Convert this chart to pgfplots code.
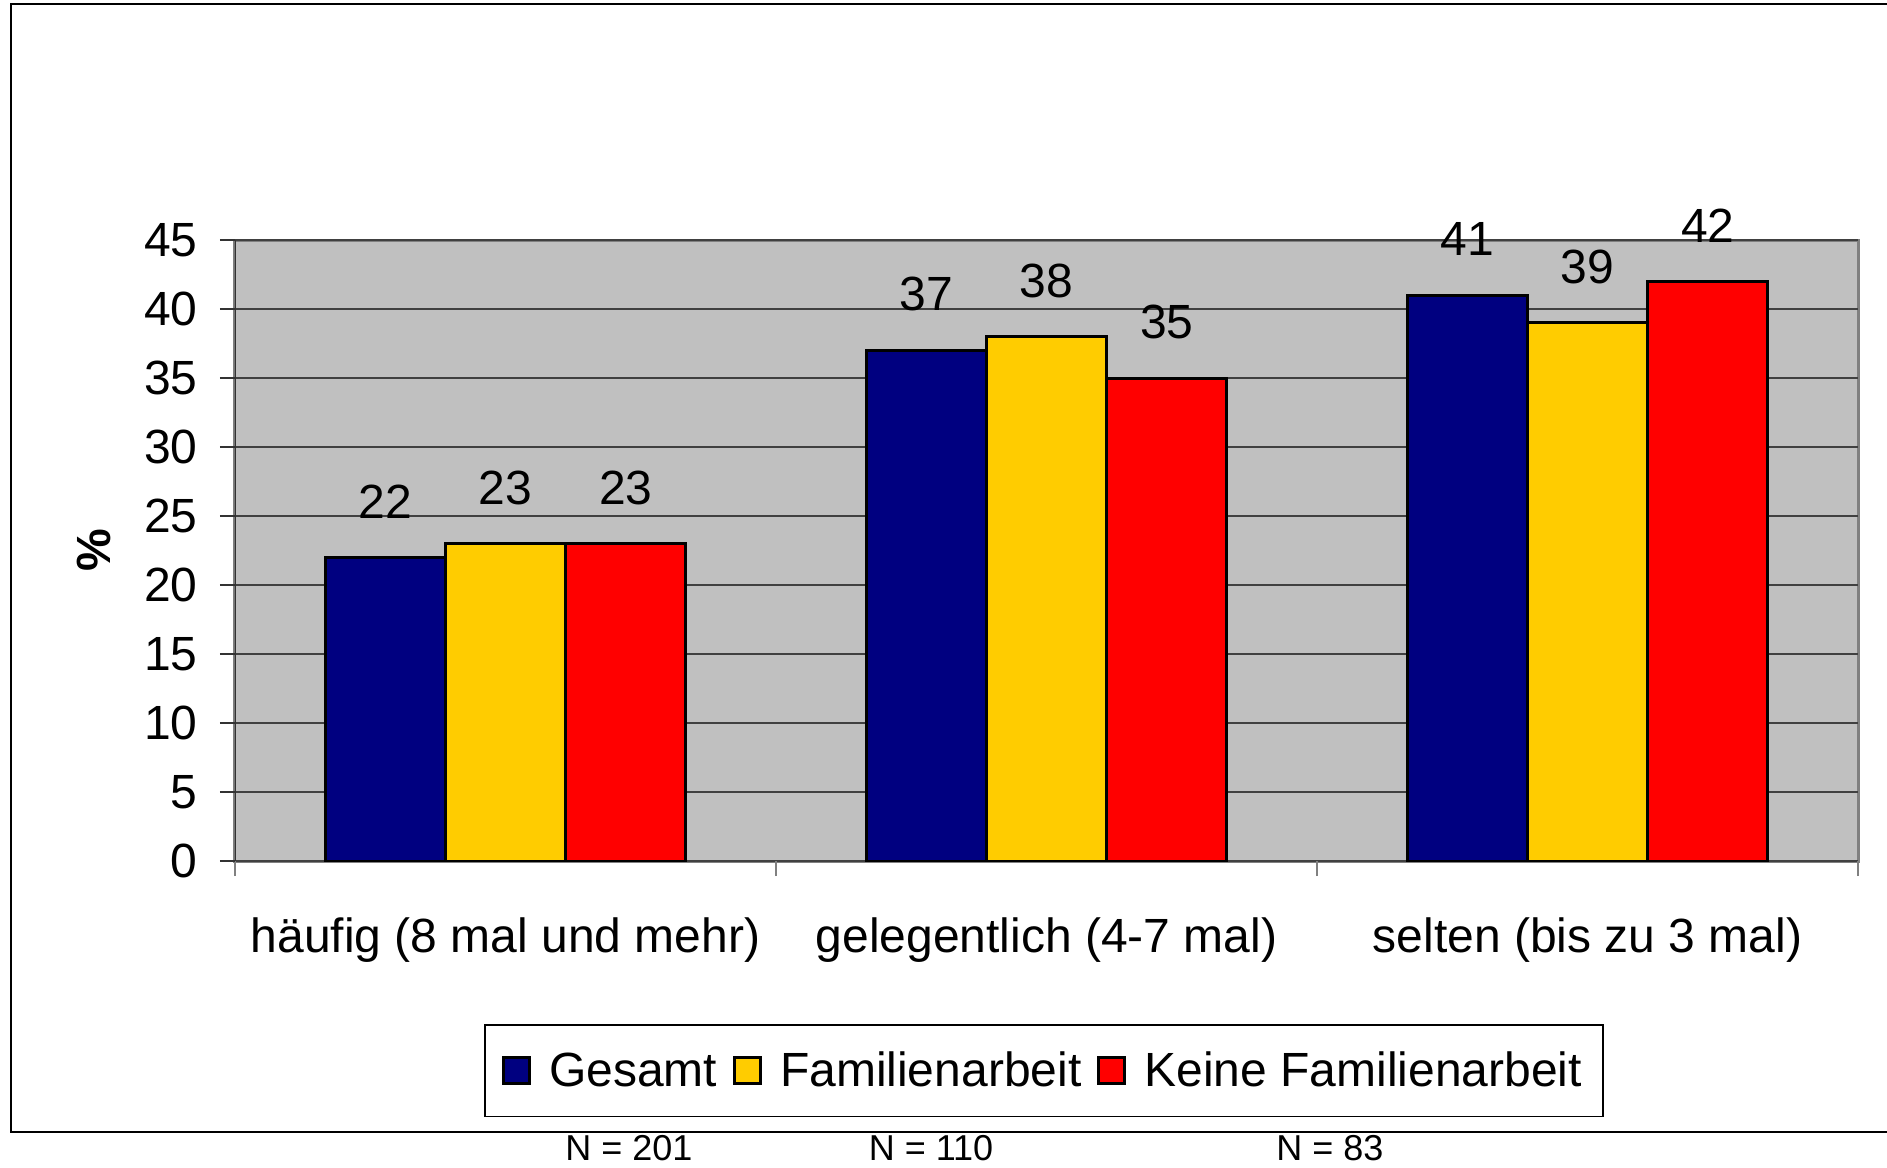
\documentclass[border=0pt]{standalone}
\usepackage{pgfplots}
\pgfplotsset{compat=1.18}
\usepackage{fontspec}
\setmainfont{Liberation Sans}
\definecolor{cnavy}{HTML}{000080}
\definecolor{cyellow}{HTML}{FFCC00}
\definecolor{cred}{HTML}{FF0000}
\definecolor{cbg}{HTML}{C0C0C0}
\definecolor{cborder}{HTML}{808080}
\newcommand{\bigf}{\fontsize{24}{28}\selectfont}
\begin{document}
\begin{tikzpicture}
\useasboundingbox (-117.5pt,-153.5pt) rectangle (826pt,430.5pt);
% outer frame (open on the right)
\draw[black, line width=1pt] (826pt,428.5pt) -- (-112pt,428.5pt) -- (-112pt,-135.5pt) -- (826pt,-135.5pt);
\begin{axis}[
  at={(0pt,0pt)}, anchor=south west,
  scale only axis, width=811.5pt, height=310.5pt,
  ybar, bar width=0.2222,
  xmin=-0.5, xmax=2.5, ymin=0, ymax=45,
  axis line style={draw=none},
  axis background/.style={fill=cbg, draw=cborder, line width=1.5pt},
  ytick={0,5,...,45},
  ymajorgrids, grid style={black!75, line width=0.6pt},
  tick align=outside, ytick pos=left, xtick pos=bottom,
  major tick length=7.5pt,
  ytick style={black!80, line width=0.8pt},
  yticklabel style={font=\bigf, xshift=-7.7pt},
  /pgf/number format/assume math mode=true,
  xtick={-0.5,0.5,1.5,2.5}, xticklabels={},
  xtick style={draw=cborder, line width=1pt},
  extra x ticks={0,1,2},
  extra x tick labels={häufig (8 mal und mehr), gelegentlich (4-7 mal), selten (bis zu 3 mal)},
  extra x tick style={major tick length=0pt, xtick style={draw=none}, xticklabel style={anchor=center, yshift=-39.4pt, font=\bigf}},
  every axis y label/.style={at={(axis description cs:-0.0869,0.5)}, rotate=90, anchor=center, font=\bigf\bfseries},
  ylabel={\%},
  nodes near coords,
  every node near coord/.append style={font=\bigf, anchor=center, yshift=28pt, text=black},
  legend image code/.code={\draw[#1, draw=black, line width=1.4pt] (0pt,-6.5pt) rectangle (13pt,6.5pt); \path (20pt,0pt);},
  legend columns=3,
  legend style={at={(0.4985,-0.338)}, anchor=center, draw=black, line width=0.75pt, font=\bigf, inner xsep=8.5pt, inner ysep=11.4pt, /tikz/every even column/.append style={column sep=6pt}},
]
\addplot[fill=cnavy, draw=black, line width=1.5pt, bar shift=-0.2222] coordinates {(0,22) (1,37) (2,41)};
\addplot[fill=cyellow, draw=black, line width=1.5pt, bar shift=0] coordinates {(0,23) (1,38) (2,39)};
\addplot[fill=cred, draw=black, line width=1.5pt, bar shift=0.2222] coordinates {(0,23) (1,35) (2,42)};
\legend{Gesamt, Familienarbeit, Keine Familienarbeit}
\draw[black!80, line width=1pt] (rel axis cs:0,0) -- (rel axis cs:0,1);
\end{axis}
\node[font=\fontsize{18}{21}\selectfont] at (197pt,-143.5pt) {N = 201};
\node[font=\fontsize{18}{21}\selectfont] at (348pt,-143.5pt) {N = 110};
\node[font=\fontsize{18}{21}\selectfont] at (547.5pt,-143.5pt) {N = 83};
\end{tikzpicture}
\end{document}
